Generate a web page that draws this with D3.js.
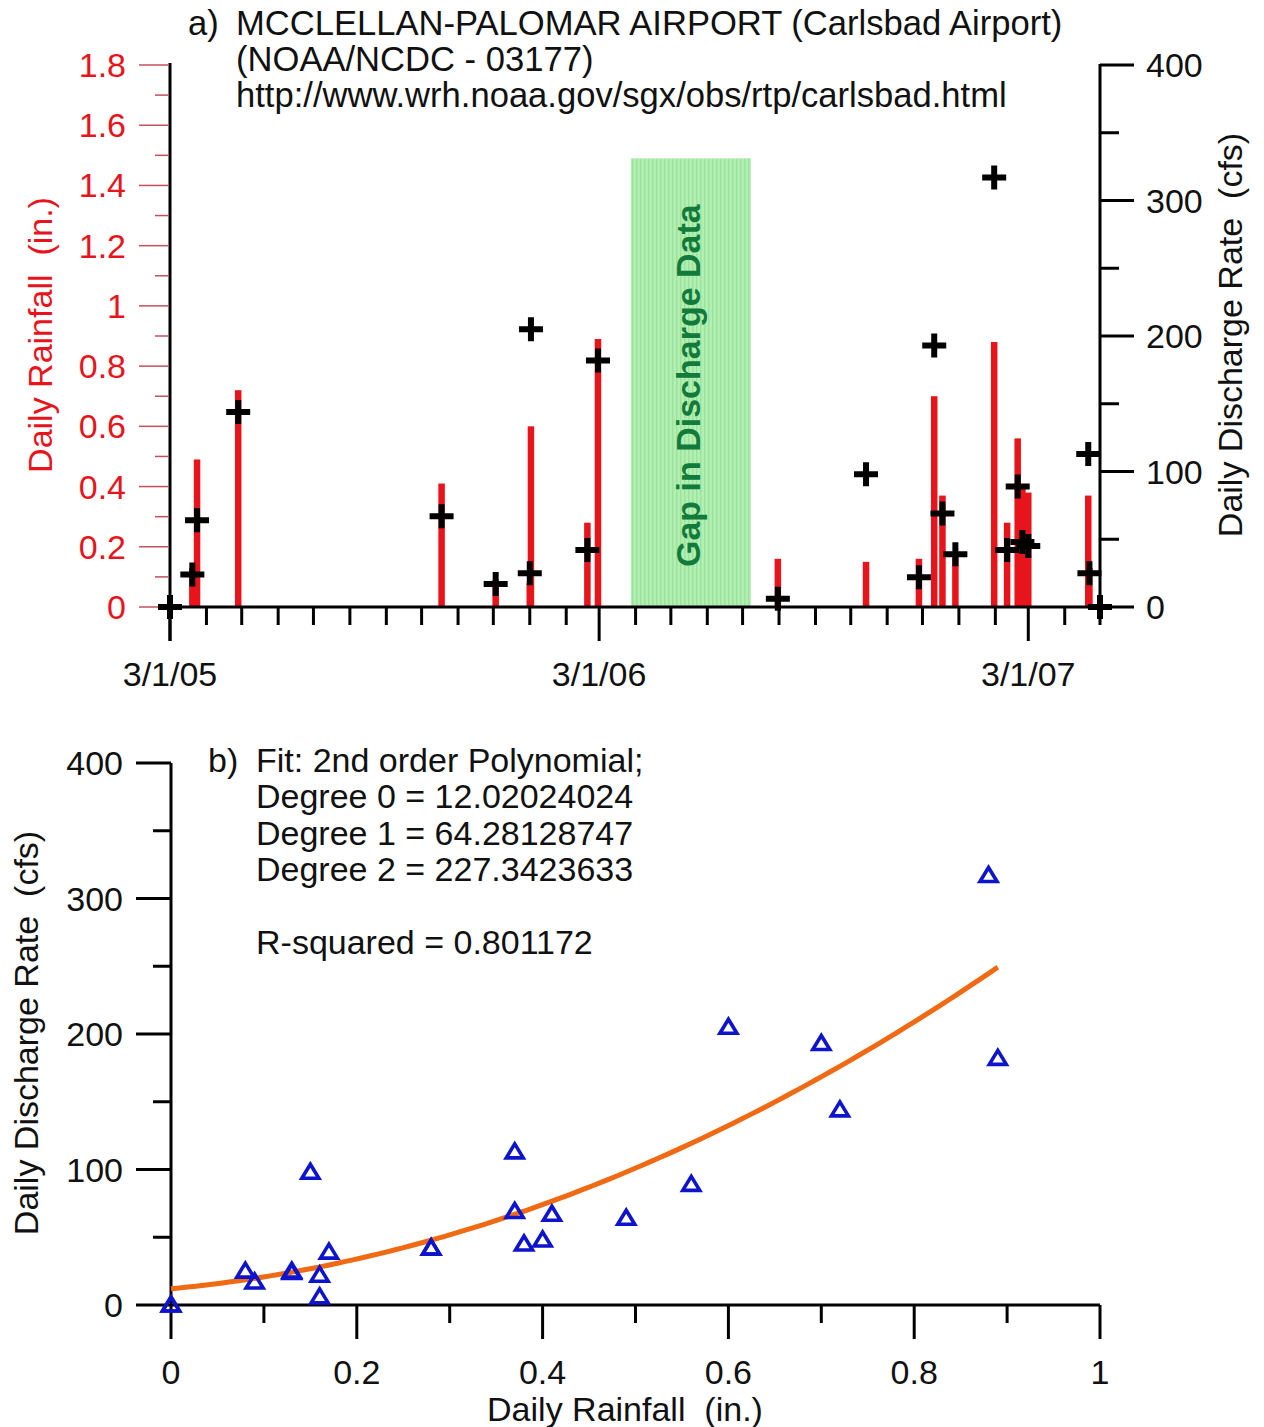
<!DOCTYPE html>
<html><head><meta charset="utf-8">
<script src="https://cdn.jsdelivr.net/npm/d3@7"></script>
<style>
body{margin:0;background:#fff}
svg{display:block}
text{font-family:"Liberation Sans",Arial,sans-serif;white-space:pre}
</style>
</head><body>
<svg id="c" width="1264" height="1427"></svg>
<script>
// ---------- data ----------
const eventDates = ["2005-03-01","2005-03-20","2005-03-24","2005-04-28","2005-10-18","2005-12-03","2006-01-01","2006-01-02","2006-02-19","2006-02-28","2006-07-31","2006-10-14","2006-11-28","2006-12-11","2006-12-18","2006-12-29","2007-01-31","2007-02-11","2007-02-20","2007-02-24","2007-03-01","2007-04-21","2007-04-22","2007-05-01"];
const rainfall  = [0, 0.13, 0.49, 0.72, 0.41, 0.09, 0.08, 0.60, 0.28, 0.89, 0.16, 0.15, 0.16, 0.70, 0.37, 0.17, 0.88, 0.28, 0.56, 0.40, 0.38, 0.37, 0.13, 0];
const discharge = [0, 24, 64, 144, 67, 17, 25, 205, 42, 182, 6, 98, 22, 193, 69, 39, 317, 42, 89, 48, 45, 113, 25, 0];
const rainTicks = [0,0.2,0.4,0.6,0.8,1,1.2,1.4,1.6,1.8];
const rainMinor = [0.1,0.3,0.5,0.7,0.9,1.1,1.3,1.5,1.7];
const qTicks = [0,100,200,300,400];
const qMinor = [50,150,250,350];
const dateTicks = ["2005-03-01","2006-03-01","2007-03-01"];
const dateTickLabels = ["3/1/05","3/1/06","3/1/07"];
const timeDomain = ["2005-03-01","2007-05-01"];
const gapPeriod = ["2006-03-28","2006-07-08"];
const gapTopRain = 1.49;
const gapLabel = "Gap in Discharge Data";
const titleLinesA = ["MCCLELLAN-PALOMAR AIRPORT (Carlsbad Airport)","(NOAA/NCDC - 03177)","http://www.wrh.noaa.gov/sgx/obs/rtp/carlsbad.html"];
const fitCoef = [12.02024024, 64.28128747, 227.3423633];
const fitRange = [0, 0.89];
const fitLines = ["Fit: 2nd order Polynomial;","Degree 0 = 12.02024024","Degree 1 = 64.28128747","Degree 2 = 227.3423633","","R-squared = 0.801172"];
const rainXTicks = [0,0.2,0.4,0.6,0.8,1];
const rainXMinor = [0.1,0.3,0.5,0.7,0.9];

// ---------- setup ----------
const svg = d3.select("#c");
const parse = d3.utcParse("%Y-%m-%d");
const FS = 34;
const TFS = 34.6;
const RED = "#e8141c";
const BLUE = "#0e14cc";

// ================= chart a =================
const A = {l:170, r:1100, t:65, b:607};
const x = d3.scaleUtc().domain(timeDomain.map(parse)).range([A.l, A.r]);
const yR = d3.scaleLinear().domain([0,1.8]).range([A.b, A.t]);
const yQ = d3.scaleLinear().domain([0,400]).range([A.b, A.t]);

// gap rectangle with striped pattern
const defs = svg.append("defs");
const pat = defs.append("pattern").attr("id","stripes").attr("patternUnits","userSpaceOnUse")
  .attr("width",4).attr("height",10);
pat.append("rect").attr("width",4).attr("height",10).attr("fill","#b2f0b2");
pat.append("rect").attr("width",1.5).attr("height",10).attr("fill","#9de29f");
const gx0 = x(parse(gapPeriod[0])), gx1 = x(parse(gapPeriod[1]));
svg.append("rect").attr("x",gx0).attr("y",yR(gapTopRain)).attr("width",gx1-gx0)
  .attr("height",yR(0)-yR(gapTopRain)).attr("fill","url(#stripes)");
svg.append("text").attr("transform",`translate(${(gx0+gx1)/2+9},${(yR(0)+yR(gapTopRain))/2+3}) rotate(-90)`)
  .attr("text-anchor","middle").attr("font-size",FS).attr("font-weight","bold")
  .attr("fill","#127a3a").text(gapLabel);

// rainfall bars
const events = eventDates.map((d,i)=>({date:parse(d), rain:rainfall[i], q:discharge[i]}));
svg.append("g").selectAll("rect").data(events.filter(d=>d.rain>0)).join("rect")
  .attr("x",d=>x(d.date)-3.25).attr("width",6.5)
  .attr("y",d=>yR(d.rain)).attr("height",d=>yR(0)-yR(d.rain)).attr("fill",RED);

// x axis line & monthly ticks
svg.append("line").attr("x1",A.l).attr("x2",A.r).attr("y1",A.b).attr("y2",A.b)
  .attr("stroke","#000").attr("stroke-width",3);
const months = d3.utcMonth.range(parse(timeDomain[0]), d3.utcDay.offset(parse(timeDomain[1]),1));
svg.append("g").selectAll("line").data(months).join("line")
  .attr("x1",d=>x(d)).attr("x2",d=>x(d)).attr("y1",A.b)
  .attr("y2",d=>A.b + (d.getUTCMonth()===2 ? 34 : 18))
  .attr("stroke","#000").attr("stroke-width",3);
svg.append("g").selectAll("text").data(dateTicks).join("text")
  .attr("x",d=>x(parse(d))).attr("y",686).attr("text-anchor","middle")
  .attr("font-size",FS).attr("fill","#111").text((d,i)=>dateTickLabels[i]);

// left axis (rainfall)
svg.append("line").attr("x1",A.l).attr("x2",A.l).attr("y1",A.t-2).attr("y2",A.b+34)
  .attr("stroke","#000").attr("stroke-width",3);
svg.append("g").selectAll("line").data(rainTicks).join("line")
  .attr("x1",A.l-31).attr("x2",A.l-1).attr("y1",d=>yR(d)).attr("y2",d=>yR(d))
  .attr("stroke","#c4505c").attr("stroke-width",1.5);
svg.append("g").selectAll("line").data(rainMinor).join("line")
  .attr("x1",A.l-15).attr("x2",A.l-1).attr("y1",d=>yR(d)).attr("y2",d=>yR(d))
  .attr("stroke","#c4505c").attr("stroke-width",1.5);
svg.append("g").selectAll("text").data(rainTicks).join("text")
  .attr("x",A.l-44).attr("y",d=>yR(d)+12).attr("text-anchor","end")
  .attr("font-size",FS).attr("fill",RED).text(d=>String(d));
svg.append("text").attr("transform",`translate(52,335) rotate(-90)`).attr("text-anchor","middle")
  .attr("font-size",FS).attr("fill",RED).text("Daily Rainfall  (in.)");

// right axis (discharge)
svg.append("line").attr("x1",A.r).attr("x2",A.r).attr("y1",A.t-1).attr("y2",A.b)
  .attr("stroke","#000").attr("stroke-width",3);
svg.append("g").selectAll("line").data(qTicks).join("line")
  .attr("x1",A.r).attr("x2",A.r+34).attr("y1",d=>yQ(d)).attr("y2",d=>yQ(d))
  .attr("stroke","#000").attr("stroke-width",3);
svg.append("g").selectAll("line").data(qMinor).join("line")
  .attr("x1",A.r).attr("x2",A.r+19).attr("y1",d=>yQ(d)).attr("y2",d=>yQ(d))
  .attr("stroke","#000").attr("stroke-width",3);
svg.append("g").selectAll("text").data(qTicks).join("text")
  .attr("x",A.r+46).attr("y",d=>yQ(d)+12).attr("text-anchor","start")
  .attr("font-size",FS).attr("fill","#111").text(d=>String(d));
svg.append("text").attr("transform",`translate(1242,335) rotate(-90)`).attr("text-anchor","middle")
  .attr("font-size",FS).attr("fill","#111").text("Daily Discharge Rate  (cfs)");

// discharge crosses
svg.append("g").selectAll("path").data(events).join("path")
  .attr("d",d=>{const cx=x(d.date), cy=yQ(d.q); return `M${cx-12},${cy}H${cx+12}M${cx},${cy-12}V${cy+12}`;})
  .attr("stroke","#000").attr("stroke-width",6).attr("fill","none");

// title
svg.append("text").attr("x",188).attr("y",35).attr("font-size",TFS).attr("fill","#111").text("a)");
svg.append("g").selectAll("text").data(titleLinesA).join("text")
  .attr("x",236).attr("y",(d,i)=>35+i*36).attr("font-size",TFS).attr("fill","#111").text(d=>d);

// ================= chart b =================
const B = {l:171, r:1100, t:763, b:1305};
const xs = d3.scaleLinear().domain([0,1]).range([B.l, B.r]);
const ys = d3.scaleLinear().domain([0,400]).range([B.b, B.t]);

svg.append("line").attr("x1",B.l).attr("x2",B.r).attr("y1",B.b).attr("y2",B.b)
  .attr("stroke","#000").attr("stroke-width",3);
svg.append("line").attr("x1",B.l).attr("x2",B.l).attr("y1",B.t).attr("y2",B.b)
  .attr("stroke","#000").attr("stroke-width",3);
svg.append("g").selectAll("line").data(rainXTicks).join("line")
  .attr("x1",d=>xs(d)).attr("x2",d=>xs(d)).attr("y1",B.b).attr("y2",B.b+34)
  .attr("stroke","#000").attr("stroke-width",3);
svg.append("g").selectAll("line").data(rainXMinor).join("line")
  .attr("x1",d=>xs(d)).attr("x2",d=>xs(d)).attr("y1",B.b).attr("y2",B.b+18)
  .attr("stroke","#000").attr("stroke-width",3);
svg.append("g").selectAll("text").data(rainXTicks).join("text")
  .attr("x",d=>xs(d)).attr("y",1384).attr("text-anchor","middle")
  .attr("font-size",FS).attr("fill","#111").text(d=>String(d));
svg.append("text").attr("x",625).attr("y",1421).attr("text-anchor","middle")
  .attr("font-size",FS).attr("fill","#111").text("Daily Rainfall  (in.)");

svg.append("g").selectAll("line").data(qTicks).join("line")
  .attr("x1",B.l-35).attr("x2",B.l).attr("y1",d=>ys(d)).attr("y2",d=>ys(d))
  .attr("stroke","#000").attr("stroke-width",3);
svg.append("g").selectAll("line").data(qMinor).join("line")
  .attr("x1",B.l-18).attr("x2",B.l).attr("y1",d=>ys(d)).attr("y2",d=>ys(d))
  .attr("stroke","#000").attr("stroke-width",3);
svg.append("g").selectAll("text").data(qTicks).join("text")
  .attr("x",B.l-48).attr("y",d=>ys(d)+12).attr("text-anchor","end")
  .attr("font-size",FS).attr("fill","#111").text(d=>String(d));
svg.append("text").attr("transform",`translate(38,1033) rotate(-90)`).attr("text-anchor","middle")
  .attr("font-size",FS).attr("fill","#111").text("Daily Discharge Rate  (cfs)");

// fit curve
const fitPts = d3.range(0, 101).map(i=>{const r=fitRange[0]+(fitRange[1]-fitRange[0])*i/100; return [r, fitCoef[0]+fitCoef[1]*r+fitCoef[2]*r*r];});
svg.append("path").datum(fitPts)
  .attr("d",d3.line().x(d=>xs(d[0])).y(d=>ys(d[1])))
  .attr("fill","none").attr("stroke","#f06a14").attr("stroke-width",5);

// triangles
svg.append("g").selectAll("path").data(events).join("path")
  .attr("d",d=>{const cx=xs(d.rain), cy=ys(d.q); return `M${cx},${cy-8}L${cx+8.5},${cy+6}L${cx-8.5},${cy+6}Z`;})
  .attr("fill","none").attr("stroke",BLUE).attr("stroke-width",3.6).attr("stroke-linejoin","miter");

// fit annotation
svg.append("text").attr("x",208).attr("y",772).attr("font-size",FS).attr("fill","#111").text("b)");
svg.append("g").selectAll("text").data(fitLines).join("text")
  .attr("x",256).attr("y",(d,i)=>772+i*36.3).attr("font-size",FS).attr("fill","#111").text(d=>d);
</script>
</body></html>
